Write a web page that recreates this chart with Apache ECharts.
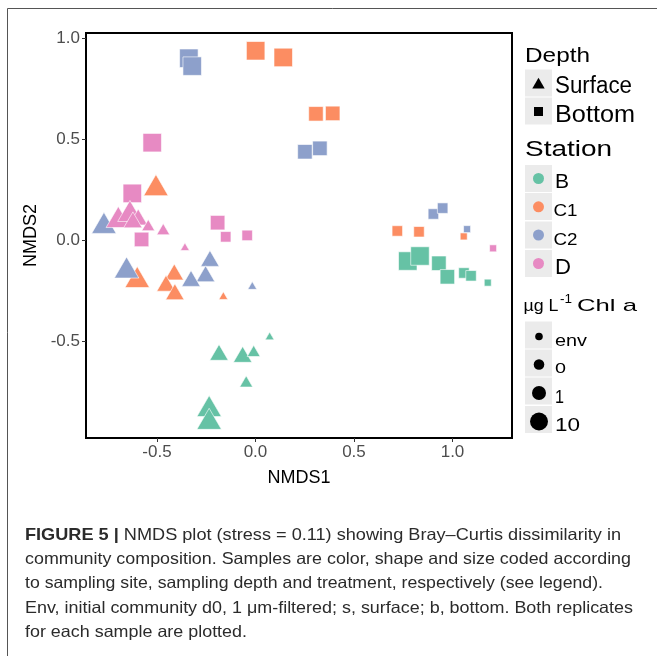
<!DOCTYPE html>
<html><head><meta charset="utf-8">
<script src="https://cdn.jsdelivr.net/npm/echarts@6/dist/echarts.min.js"></script>
<style>html,body{margin:0;padding:0;background:#fff}#c{width:657px;height:656px}</style>
</head><body><div id="c"></div>
<script>
// ---- data: [NMDS1, NMDS2, chl level] ----
const stations = ['B', 'C1', 'C2', 'D'];
const chlLevels = ['env', '0', '1', '10'];
const xTicks = [-0.5, 0, 0.5, 1.0];
const yTicks = [-0.5, 0, 0.5, 1.0];

const B_surface = [[-0.235,-0.822,'10'],[-0.235,-0.885,'10'],[-0.185,-0.556,'1'],[-0.065,-0.566,'1'],[-0.009,-0.549,'0'],[-0.047,-0.700,'0'],[0.072,-0.475,'env']];
const B_bottom = [[0.773,-0.104,'10'],[0.835,-0.079,'10'],[0.931,-0.115,'1'],[0.974,-0.182,'1'],[1.058,-0.163,'0'],[1.094,-0.177,'0'],[1.179,-0.211,'env']];
const C1_surface = [[-0.505,0.272,'10'],[-0.600,-0.183,'10'],[-0.412,-0.158,'1'],[-0.454,-0.214,'1'],[-0.409,-0.256,'1'],[-0.163,-0.275,'env']];
const C1_bottom = [[0.001,0.937,'10'],[0.141,0.904,'10'],[0.307,0.625,'1'],[0.392,0.627,'1'],[0.720,0.045,'0'],[0.830,0.041,'0'],[1.057,0.018,'env']];
const C2_surface = [[-0.769,0.085,'10'],[-0.654,-0.136,'10'],[-0.231,-0.091,'1'],[-0.253,-0.167,'1'],[-0.327,-0.190,'1'],[-0.016,-0.225,'env']];
const C2_bottom = [[-0.338,0.900,'10'],[-0.321,0.861,'10'],[0.251,0.437,'1'],[0.327,0.454,'1'],[0.903,0.129,'0'],[0.950,0.158,'0'],[1.074,0.054,'env']];
const D_surface = [[-0.696,0.114,'10'],[-0.637,0.144,'10'],[-0.595,0.114,'1'],[-0.622,0.100,'1'],[-0.544,0.074,'0'],[-0.468,0.054,'0'],[-0.358,-0.033,'env']];
const D_bottom = [[-0.524,0.482,'10'],[-0.625,0.231,'10'],[-0.192,0.086,'1'],[-0.578,0.003,'1'],[-0.151,0.016,'0'],[-0.042,0.023,'0'],[1.206,-0.041,'env']];

const captionLines = [
  'NMDS plot (stress = 0.11) showing Bray\u2013Curtis dissimilarity in',
  'community composition. Samples are color, shape and size coded according',
  'to sampling site, sampling depth and treatment, respectively (see legend).',
  'Env, initial community d0, 1 \u03bcm-filtered; s, surface; b, bottom. Both replicates',
  'for each sample are plotted.'
];

// ---- styling ----
const colors = { B: '#66c2a5', C1: '#fc8d62', C2: '#8da0cb', D: '#e78ac3' };
const squareSize = { env: 7, '0': 10.5, '1': 14.5, '10': 18.5 };
const triSize = { env: 9, '0': 13, '1': 18.5, '10': 24.5 };
const FONT = 'Liberation Sans, Arial, sans-serif';

const groups = [
  ['B', 'bottom', B_bottom], ['C1', 'bottom', C1_bottom], ['C2', 'bottom', C2_bottom], ['D', 'bottom', D_bottom],
  ['B', 'surface', B_surface], ['C1', 'surface', C1_surface], ['C2', 'surface', C2_surface], ['D', 'surface', D_surface]
];

const series = groups.map(([st, depth, arr]) => ({
  type: 'scatter',
  name: st + ' ' + depth,
  data: arr,
  symbol: depth === 'bottom' ? 'rect' : 'triangle',
  symbolSize: depth === 'bottom'
    ? (v) => squareSize[v[2]]
    : (v) => [triSize[v[2]], triSize[v[2]] * 0.86],
  itemStyle: { color: colors[st], borderColor: '#ffffff', borderWidth: 0.6, opacity: 1 },
  emphasis: { disabled: true },
  silent: true
}));

// text measurement for horizontal fitting
const cv = document.createElement('canvas').getContext('2d');
function measure(str, size, weight) {
  cv.font = (weight || 'normal') + ' ' + size + 'px ' + FONT;
  return cv.measureText(str).width;
}
const VSHIFT = 0.2;
function fitText(x, baseline, str, size, target, color, fixedScale) {
  const w = measure(str, size);
  const sx = fixedScale ? fixedScale : (target ? target / w : 1);
  return {
    type: 'text', x: x, y: baseline - VSHIFT * size, scaleX: sx,
    style: { text: str, font: size + 'px ' + FONT, fill: color || '#000', textAlign: 'left', verticalAlign: 'middle' },
    silent: true
  };
}

const graphics = [];
// outer figure frame
graphics.push({ type: 'rect', shape: { x: 7.5, y: 8.5, width: 700, height: 700 }, style: { fill: 'none', stroke: '#555', lineWidth: 1 }, silent: true });

// legend key boxes
const keyBg = '#ebebeb';
function keyBox(y) { graphics.push({ type: 'rect', shape: { x: 525, y: y, width: 27, height: 27 }, style: { fill: keyBg }, silent: true }); }
[69.5, 97.5].forEach(keyBox);
[165, 193, 221.5, 250].forEach(keyBox);
[321.5, 349.5, 377.5, 406].forEach(keyBox);

// Depth legend
graphics.push(fitText(525, 60, 'Depth', 21, 65));
graphics.push({ type: 'polygon', shape: { points: [[532.3, 88.5], [544.7, 88.5], [538.5, 77.8]] }, style: { fill: '#000' }, silent: true });
graphics.push({ type: 'rect', shape: { x: 534, y: 107, width: 9, height: 9 }, style: { fill: '#000' }, silent: true });
graphics.push(fitText(555, 91.5, 'Surface', 23, 77));
graphics.push(fitText(555, 120.5, 'Bottom', 23, 80));

// Station legend
graphics.push(fitText(525, 154, 'Station', 22, 87));
const stY = [178.5, 206.8, 235, 263.5];
stations.forEach((s, i) => {
  graphics.push({ type: 'circle', shape: { cx: 538.5, cy: stY[i], r: 5.5 }, style: { fill: colors[s] }, silent: true });
});
graphics.push(fitText(555, 186.7, 'B', 21, 14));
graphics.push(fitText(553.5, 215, 'C1', 16, 24));
graphics.push(fitText(553.5, 243.3, 'C2', 16, 24));
graphics.push(fitText(555, 272.3, 'D', 22, 16));

// Chl legend
graphics.push(fitText(523.5, 310, '\u00b5g L', 17, 35));
graphics.push(fitText(560, 302, '-1', 12, 12));
graphics.push(fitText(577, 310, 'Chl a', 17, 60));
const chlY = [336.5, 364.5, 393, 421.5];
const chlR = [3.8, 5.3, 7, 9];
const chlLabelBase = [345, 371.7, 401.7, 430];
const chlFont = [16, 15, 18, 18];
const chlW = [32, 11, 9, 25];
chlLevels.forEach((lv, i) => {
  graphics.push({ type: 'circle', shape: { cx: 539, cy: chlY[i], r: chlR[i] }, style: { fill: '#000' }, silent: true });
  graphics.push(fitText(555, chlLabelBase[i], lv, chlFont[i], chlW[i]));
});

// caption
const capBase = [538.3, 562.8, 587.2, 611.6, 636];
const capTarget = [596, 606, 578, 608];
const capSize = 16.5;
const capColor = '#2b2b2b';
const capScales = [];
captionLines.forEach((ln, i) => {
  if (i === 0) {
    const boldPart = 'FIGURE 5 | ';
    const wb = measure(boldPart, capSize, 'bold');
    const wn = measure(ln, capSize);
    const sx = capTarget[0] / (wb + wn);
    capScales.push(sx);
    graphics.push({
      type: 'text', x: 25, y: capBase[0] - VSHIFT * capSize, scaleX: sx,
      style: {
        text: '{b|FIGURE 5 | }{n|' + ln + '}',
        rich: { b: { font: 'bold ' + capSize + 'px ' + FONT, fill: capColor }, n: { font: capSize + 'px ' + FONT, fill: capColor } },
        textAlign: 'left', verticalAlign: 'middle'
      },
      silent: true
    });
  } else if (i < 4) {
    capScales.push(capTarget[i] / measure(ln, capSize));
    graphics.push(fitText(25, capBase[i], ln, capSize, capTarget[i], capColor));
  } else {
    const avg = capScales.reduce((a, b) => a + b, 0) / capScales.length;
    graphics.push(fitText(25, capBase[i], ln, capSize, null, capColor, avg));
  }
});

const chart = echarts.init(document.getElementById('c'), null, { renderer: 'canvas' });
chart.setOption({
  animation: false,
  backgroundColor: '#fff',
  grid: { left: 86, top: 33, width: 426, height: 405, show: true, borderColor: '#000', borderWidth: 2, backgroundColor: 'transparent', outerBoundsMode: 'none', containLabel: false },
  xAxis: {
    type: 'value', min: -0.86, max: 1.302,
    splitLine: { show: false },
    axisLine: { show: false, onZero: false },
    axisTick: { show: true, length: 4, lineStyle: { color: '#333' }, customValues: xTicks },
    axisLabel: { color: '#4d4d4d', fontSize: 17, fontFamily: FONT, margin: 6, customValues: xTicks, formatter: (v) => v.toFixed(1) },
    name: 'NMDS1', nameLocation: 'middle', nameGap: 31,
    nameTextStyle: { color: '#000', fontSize: 18, fontFamily: FONT }
  },
  yAxis: {
    type: 'value', min: -0.98, max: 1.025,
    splitLine: { show: false },
    axisLine: { show: false, onZero: false },
    axisTick: { show: true, length: 4, lineStyle: { color: '#333' }, customValues: yTicks },
    axisLabel: { color: '#4d4d4d', fontSize: 17, fontFamily: FONT, margin: 6, customValues: yTicks, formatter: (v) => v.toFixed(1) },
    name: 'NMDS2', nameLocation: 'middle', nameGap: 36, nameRotate: 90,
    nameTextStyle: { color: '#000', fontSize: 18, fontFamily: FONT }
  },
  series: series,
  graphic: graphics
});
</script>
</body></html>
